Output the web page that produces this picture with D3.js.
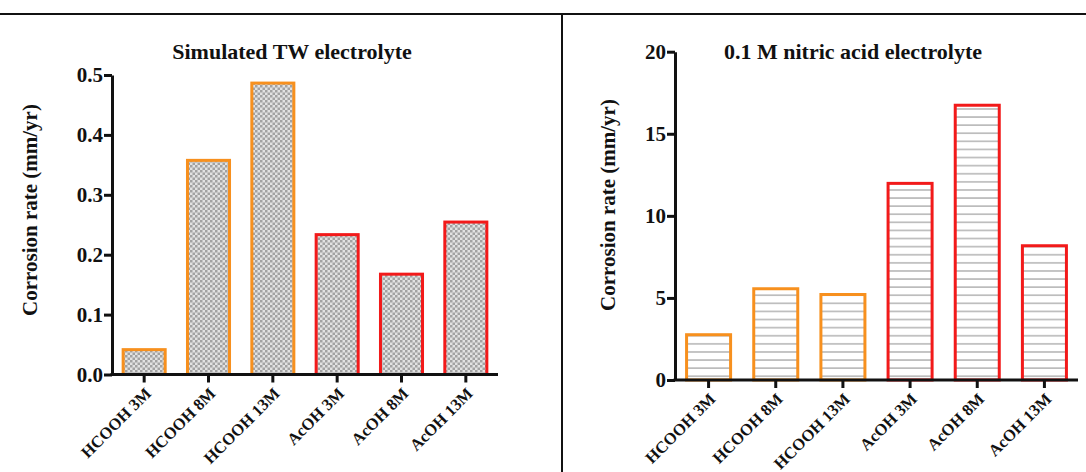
<!DOCTYPE html>
<html>
<head>
<meta charset="utf-8">
<script src="https://cdn.jsdelivr.net/npm/d3@7"></script>
<style>
  html, body { margin: 0; padding: 0; background: #fff; }
  svg text { font-family: "Liberation Serif", "DejaVu Serif", serif; font-weight: bold; fill: #111; }
</style>
</head>
<body>
<svg id="fig" width="1086" height="472"></svg>
<script>
// Corrosion rates by electrolyte medium
const categories = ["HCOOH 3M", "HCOOH 8M", "HCOOH 13M", "AcOH 3M", "AcOH 8M", "AcOH 13M"];
const acidGroup = ["formic", "formic", "formic", "acetic", "acetic", "acetic"];
const twValues = [0.044, 0.36, 0.489, 0.236, 0.17, 0.257];
const nitricValues = [2.85, 5.65, 5.3, 12.07, 16.83, 8.27];
const twTicks = [0.0, 0.1, 0.2, 0.3, 0.4, 0.5];
const nitricTicks = [0, 5, 10, 15, 20];

const strokeColor = { formic: "#F7901E", acetic: "#F21A1A" };

const svg = d3.select("#fig");
const defs = svg.append("defs");

// checkerboard fill
const cell = 2.5;
const checker = defs.append("pattern").attr("id", "checker")
  .attr("patternUnits", "userSpaceOnUse").attr("width", cell * 2).attr("height", cell * 2);
checker.append("rect").attr("width", cell * 2).attr("height", cell * 2).attr("fill", "#e2e2e2");
checker.append("rect").attr("width", cell).attr("height", cell).attr("fill", "#a2a2a2");
checker.append("rect").attr("x", cell).attr("y", cell).attr("width", cell).attr("height", cell).attr("fill", "#a2a2a2");

// horizontal hatch fill
const hatch = defs.append("pattern").attr("id", "hatch")
  .attr("patternUnits", "userSpaceOnUse").attr("width", 8).attr("height", 8.1);
hatch.append("rect").attr("width", 8).attr("height", 8.1).attr("fill", "#fff");
hatch.append("rect").attr("y", 3).attr("width", 8).attr("height", 1.3).attr("fill", "#a8a8a8");

// frame lines
svg.append("line").attr("x1", 0).attr("x2", 1086).attr("y1", 14).attr("y2", 14)
  .attr("stroke", "#111").attr("stroke-width", 2.2);
svg.append("line").attr("x1", 562).attr("x2", 562).attr("y1", 14).attr("y2", 472)
  .attr("stroke", "#111").attr("stroke-width", 2);

function drawPanel(cfg) {
  const x = d3.scaleBand().domain(categories).range([cfg.x0, cfg.x1]).paddingInner(0.3).paddingOuter(0.15);
  const y = d3.scaleLinear().domain([0, cfg.max]).range([cfg.y0, cfg.y1]);
  const g = svg.append("g");

  g.selectAll("rect.bar").data(categories).join("rect")
    .attr("class", "bar")
    .attr("x", d => x(d) + 1.5)
    .attr("width", x.bandwidth() - 3)
    .attr("y", (d, i) => y(cfg.values[i]) + 1.5)
    .attr("height", (d, i) => cfg.y0 - y(cfg.values[i]) - 1.5)
    .attr("fill", `url(#${cfg.fill})`)
    .attr("stroke", (d, i) => strokeColor[acidGroup[i]])
    .attr("stroke-width", 3);

  const yAxis = g.append("g").attr("transform", `translate(${cfg.x0},0)`)
    .call(d3.axisLeft(y).tickValues(cfg.ticks).tickFormat(cfg.fmt).tickSizeInner(8).tickSizeOuter(0));
  yAxis.select(".domain").attr("stroke-width", 3).attr("stroke", "#111");
  yAxis.selectAll(".tick line").attr("stroke-width", 3).attr("stroke", "#111");
  yAxis.selectAll(".tick text").attr("font-size", 21).attr("x", -9).attr("dy", "0.32em")
    .style("font-family", '"Liberation Serif", serif').style("font-weight", "bold").attr("fill", "#111");

  const xAxis = g.append("g").attr("transform", `translate(0,${cfg.y0})`)
    .call(d3.axisBottom(x).tickSizeInner(8).tickSizeOuter(0));
  xAxis.select(".domain").attr("stroke-width", 3).attr("stroke", "#111")
    .attr("d", `M${cfg.x0 - 1.5},0H${cfg.x1}`);
  xAxis.selectAll(".tick line").attr("stroke-width", 3).attr("stroke", "#111");
  xAxis.selectAll(".tick text")
    .attr("font-size", 16.5)
    .attr("text-anchor", "end")
    .attr("dy", "0")
    .attr("transform", "translate(8,20) rotate(-45)")
    .attr("y", 0).attr("x", 0)
    .style("font-family", '"Liberation Serif", serif').style("font-weight", "bold").attr("fill", "#111");

  svg.append("text").attr("x", cfg.titleX).attr("y", 59)
    .attr("text-anchor", "middle").attr("font-size", 22).text(cfg.title);

  svg.append("text")
    .attr("transform", `translate(${cfg.labelX},${cfg.labelY}) rotate(-90)`)
    .attr("text-anchor", "middle").attr("font-size", 21).text("Corrosion rate (mm/yr)");
}

drawPanel({
  x0: 112, x1: 498, y0: 374.5, y1: 75, max: 0.5,
  values: twValues, ticks: twTicks, fmt: d3.format(".1f"), fill: "checker",
  title: "Simulated TW electrolyte", titleX: 292, labelX: 37, labelY: 210
});

drawPanel({
  x0: 675, x1: 1078, y0: 380, y1: 51.7, max: 20,
  values: nitricValues, ticks: nitricTicks, fmt: d3.format("d"), fill: "hatch",
  title: "0.1 M nitric acid electrolyte", titleX: 853, labelX: 615, labelY: 205
});
</script>
</body>
</html>
